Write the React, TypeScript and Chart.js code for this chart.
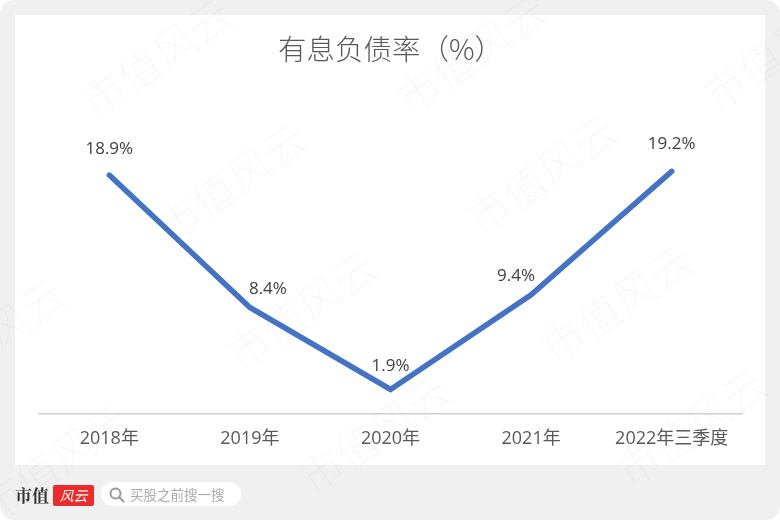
import React, { useEffect, useRef } from "react";
import { Chart, registerables } from "chart.js";

Chart.register(...registerables);

const categories = ["2018年", "2019年", "2020年", "2021年", "2022年三季度"];
const debtRatio = [18.9, 8.4, 1.9, 9.4, 19.2];
const valueLabels = ["18.9%", "8.4%", "1.9%", "9.4%", "19.2%"];
const chartTitle = "有息负债率（%）";
const watermarkText = "市值风云";
const searchText = "买股之前搜一搜";

const FONT = '"Noto Sans CJK SC", "Open Sans", sans-serif';
const LABEL_FONT = '"Open Sans", "Noto Sans CJK SC", sans-serif';
const labelShift = [[0, -26], [18, -18], [0, -23], [-15, -19], [0, -27]];
const watermarks = [
  [155, 55], [230, 180], [300, 308], [-12, 335], [470, 52], [540, 172], [615, 302], [776, 48], [373, 432], [690, 425], [53, 460],
];

const pointLabels = {
  id: "pointLabels",
  afterDatasetsDraw(chart: any) {
    const { ctx } = chart;
    const meta = chart.getDatasetMeta(0);
    ctx.save();
    ctx.font = `17px ${LABEL_FONT}`;
    ctx.fillStyle = "#404040";
    ctx.textAlign = "center";
    ctx.textBaseline = "middle";
    meta.data.forEach((pt: any, i: number) => {
      ctx.fillText(valueLabels[i], pt.x + labelShift[i][0], pt.y + labelShift[i][1]);
    });
    ctx.restore();
  },
};

export default function App() {
  const ref = useRef<HTMLCanvasElement>(null);
  useEffect(() => {
    const chart = new Chart(ref.current!, {
      type: "line",
      data: {
        labels: categories,
        datasets: [
          {
            data: debtRatio,
            borderColor: "#4472C4",
            borderWidth: 5.5,
            borderCapStyle: "round",
            borderJoinStyle: "miter",
            tension: 0,
            pointRadius: 0,
            fill: false,
          },
        ],
      },
      options: {
        animation: false,
        responsive: false,
        devicePixelRatio: 1,
        layout: { padding: { left: 39, right: 38, top: 0, bottom: 55 } },
        plugins: {
          legend: { display: false },
          tooltip: { enabled: false },
          title: {
            display: true,
            text: chartTitle,
            color: "#595959",
            font: { family: FONT, size: 28.5, weight: "300" },
            padding: { top: 32, bottom: 32 },
          },
        },
        scales: {
          x: {
            offset: true,
            grid: { display: false, drawTicks: false },
            border: { display: true, color: "#d0d0d0", width: 1.5 },
            ticks: {
              color: "#595959",
              font: { family: LABEL_FONT, size: 18 },
              maxRotation: 0,
              autoSkip: false,
              padding: 15,
            },
          },
          y: { display: false, min: 0, max: 25 },
        },
      },
      plugins: [pointLabels],
    } as any);
    return () => chart.destroy();
  }, []);

  return (
    <div style={{ position: "fixed", left: 0, top: 0, width: 780, height: 520, background: "#fff", overflow: "hidden" }}>
      <div style={{ position: "absolute", inset: 0, background: "#f0f0f0", borderRadius: 14 }} />
      <div style={{ position: "absolute", left: 15, top: 15, width: 750, height: 450, background: "#fff" }} />
      {watermarks.map(([x, y], i) => (
        <div
          key={i}
          style={{
            position: "absolute",
            left: x - 100,
            top: y - 25,
            width: 200,
            height: 50,
            lineHeight: "50px",
            textAlign: "center",
            whiteSpace: "nowrap",
            fontFamily: FONT,
            fontSize: 43,
            fontWeight: 300,
            color: "rgba(0,0,0,0.03)",
            transform: "rotate(-35deg)",
          }}
        >
          {watermarkText}
        </div>
      ))}
      <canvas ref={ref} width={780} height={520} style={{ position: "absolute", left: 0, top: 0, display: "block" }} />
      <div style={{ position: "absolute", left: 15, top: 483, fontFamily: '"Noto Serif CJK SC", "Noto Sans CJK SC", serif', fontWeight: 700, fontSize: 17, lineHeight: "24px", color: "#333" }}>
        市值
      </div>
      <div style={{ position: "absolute", left: 53, top: 485, width: 41, height: 21, background: "#ee2b2b", borderRadius: 2, color: "#fff", fontFamily: FONT, fontSize: 14, lineHeight: "21px", textAlign: "center", fontStyle: "italic" }}>
        风云
      </div>
      <div style={{ position: "absolute", left: 101, top: 482, width: 140, height: 24, borderRadius: 12, background: "#fff" }} />
      <svg style={{ position: "absolute", left: 108, top: 486 }} width={18} height={18} viewBox="0 0 18 18">
        <circle cx="7.5" cy="7.5" r="5" fill="none" stroke="#999" strokeWidth="2" />
        <line x1="11.5" y1="11.5" x2="15.5" y2="15.5" stroke="#999" strokeWidth="2" strokeLinecap="round" />
      </svg>
      <div style={{ position: "absolute", left: 130, top: 482, fontFamily: FONT, fontSize: 13.5, lineHeight: "24px", color: "#aaa", whiteSpace: "nowrap" }}>
        {searchText}
      </div>
    </div>
  );
}
